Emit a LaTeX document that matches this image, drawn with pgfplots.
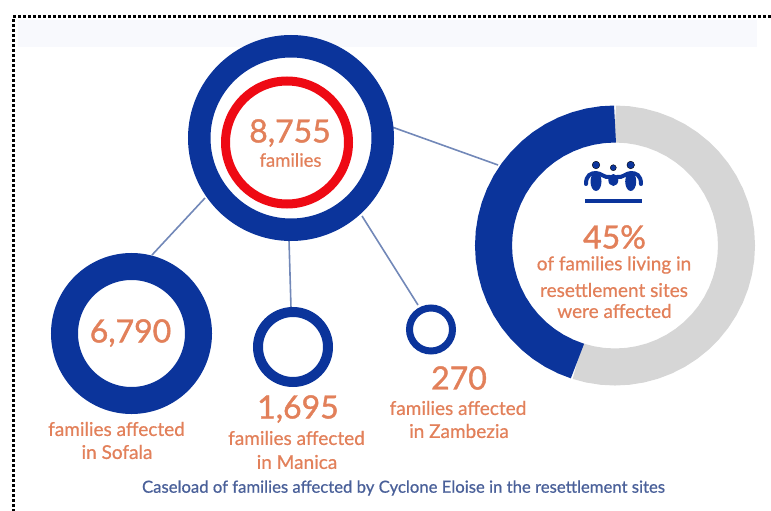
\documentclass[border=0pt]{standalone}
\usepackage{fontspec}
\setmainfont{Lato}[FakeBold=0.7]
\newfontfamily\numf{Lato}[FakeBold=1.3]
\usepackage{pgfplots}
\pgfplotsset{compat=1.18}
\definecolor{navy}{HTML}{0B349B}
\definecolor{ringred}{HTML}{EE0A14}
\definecolor{txt}{HTML}{E2805A}
\definecolor{linkc}{HTML}{7288B8}
\definecolor{cap}{HTML}{4A6099}
\definecolor{grayr}{HTML}{D6D6D6}
\definecolor{band}{HTML}{F8F9FD}
\newcommand{\fs}[1]{\fontsize{#1}{#1}\selectfont}
\begin{document}
\begin{tikzpicture}
\path[use as bounding box] (0pt,0pt) rectangle (771pt,511pt);
\begin{axis}[
  scale only axis, width=771pt, height=511pt,
  xmin=0, xmax=771, ymin=0, ymax=511, y dir=reverse,
  hide axis, clip=false, anchor=south west, at={(0pt,0pt)},
]
% pale band
\addplot[draw=none, fill=band, mark=none] coordinates {(18,20) (757,20) (757,47) (18,47)} -- cycle;
% dotted frame
\addplot[black, line width=3pt, dash pattern=on 2.7pt off 2.3pt, mark=none] coordinates {(771,17) (13,17) (13,511)};
% connector lines
\addplot[linkc, line width=1.6pt, mark=none] coordinates {(205,198) (152,255)};
\addplot[linkc, line width=1.6pt, mark=none] coordinates {(289,240) (291,308)};
\addplot[linkc, line width=1.6pt, mark=none] coordinates {(362,216) (418,305)};
\addplot[linkc, line width=1.6pt, mark=none] coordinates {(392,127) (498,165)};
% rings
\addplot[only marks, mark=o, mark size=91.75pt, mark options={draw=navy, line width=22.5pt}] coordinates {(291,138)};
\addplot[only marks, mark=o, mark size=61.5pt, mark options={draw=ringred, line width=9pt}] coordinates {(287,142.5)};
\addplot[only marks, mark=o, mark size=67pt, mark options={draw=navy, line width=27pt}] coordinates {(131.5,333.5)};
\addplot[only marks, mark=o, mark size=35pt, mark options={draw=navy, line width=10pt}] coordinates {(293,347)};
\addplot[only marks, mark=o, mark size=21.5pt, mark options={draw=navy, line width=7pt}] coordinates {(431,329.5)};
% 45 % donut
\addplot[grayr, line width=37pt, mark=none, line cap=butt] coordinates {
(577.45,361.05) (589.74,364.34) (602.30,366.33) (615,367) (627.70,366.33) (640.26,364.34)
(652.55,361.05) (664.42,356.49) (675.75,350.72) (686.42,343.80) (696.30,335.79)
(705.29,326.80) (713.30,316.92) (720.22,306.25) (725.99,294.92) (730.55,283.05)
(733.84,270.76) (735.83,258.20) (736.5,245.5) (735.83,232.80) (733.84,220.24)
(730.55,207.95) (725.99,196.08) (720.22,184.75) (713.30,174.08) (705.29,164.20)
(696.30,155.21) (686.42,147.20) (675.75,140.28) (664.42,134.51) (652.55,129.95)
(640.26,126.66) (627.70,124.67) (615,124)};
\addplot[navy, line width=37pt, mark=none, line cap=butt] coordinates {
(615,124) (602.30,124.67) (589.74,126.66) (577.45,129.95) (565.58,134.51)
(554.25,140.28) (543.58,147.20) (533.70,155.21) (524.71,164.20) (516.70,174.08)
(509.78,184.75) (504.01,196.08) (499.45,207.95) (496.16,220.24) (494.17,232.80)
(493.5,245.5) (494.17,258.20) (496.16,270.76) (499.45,283.05) (504.01,294.92)
(509.78,306.25) (516.70,316.92) (524.71,326.80) (533.70,335.79) (543.58,343.80)
(554.25,350.72) (565.58,356.49) (577.45,361.05)};
% icon
\addplot[navy, line width=4pt, mark=none] coordinates {(585,200.5) (642,200.5)};
\addplot[only marks, mark=*, mark size=3.8pt, mark options={draw=none, fill=navy}] coordinates {(596,165) (630.7,165)};
\addplot[only marks, mark=*, mark size=3pt, mark options={draw=none, fill=navy}] coordinates {(613.3,167.7)};
\fill[navy] (axis cs:596,181.5) ellipse[x radius=5.5pt, y radius=9.5pt];
\fill[navy] (axis cs:630.7,181.5) ellipse[x radius=5.5pt, y radius=9.5pt];
\fill[navy] (axis cs:613.3,180) ellipse[x radius=5pt, y radius=6pt];
\draw[navy, line width=4pt, line cap=round] (axis cs:586,184) .. controls (axis cs:586,175) and (axis cs:591,173) .. (axis cs:596,173) .. controls (axis cs:601,173) and (axis cs:604,178) .. (axis cs:610,177);
\draw[navy, line width=4pt, line cap=round] (axis cs:641,184) .. controls (axis cs:641,175) and (axis cs:636,173) .. (axis cs:631,173) .. controls (axis cs:626,173) and (axis cs:623,178) .. (axis cs:617,177);
% text
\tikzset{t/.style={text=txt, inner sep=0pt, anchor=center, align=center}}
\node[t] at (axis cs:290,133) {\numf\fs{32}8,755};
\node[t] at (axis cs:290.5,160) {\fs{18.5}families};
\node[t] at (axis cs:130.5,333) {\numf\fs{32}6,790};
\node[t] at (axis cs:116.5,429) {\fs{19}families affected};
\node[t] at (axis cs:117,452) {\fs{19}in Sofala};
\node[t] at (axis cs:298,409) {\numf\fs{32}1,695};
\node[t] at (axis cs:296.5,438) {\fs{19}families affected};
\node[t] at (axis cs:297,462) {\fs{19}in Manica};
\node[t] at (axis cs:459,378) {\numf\fs{32}270};
\node[t] at (axis cs:458,408) {\fs{19}families affected};
\node[t] at (axis cs:459,431) {\fs{19}in Zambezia};
\node[t] at (axis cs:614.5,237) {\numf\fs{32}45\%};
\node[t] at (axis cs:614,265) {\fs{19}of families living in};
\node[t] at (axis cs:614,290) {\fs{19}resettlement sites};
\node[t] at (axis cs:614.5,311) {\fs{19}were affected};
\node[t, text=cap] at (axis cs:403.5,488) {\fs{16.7}Caseload of families affected by Cyclone Eloise in the resettlement sites};
\end{axis}
\end{tikzpicture}
\end{document}
